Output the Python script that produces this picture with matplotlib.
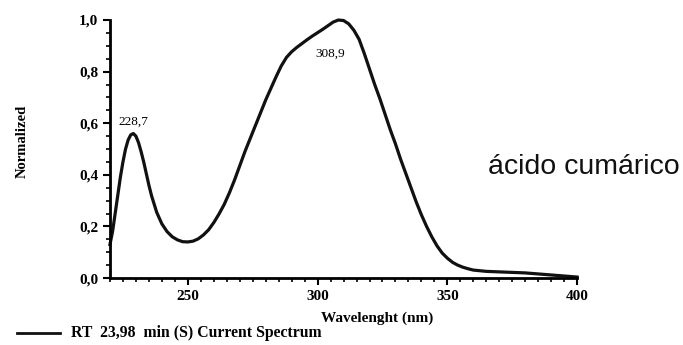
import matplotlib
matplotlib.use("Agg")
import matplotlib.pyplot as plt
from matplotlib.ticker import MultipleLocator, FuncFormatter

# spectrum (nm, normalized absorbance)
wavelength = [220, 221, 222, 223, 224, 225, 226, 227, 228, 229, 230, 231, 232, 233,
              234, 235, 236, 238, 240, 242, 244, 246, 248, 250, 252, 254, 256, 258,
              260, 262, 264, 266, 268, 270, 272, 274, 276, 278, 280, 282, 284, 286,
              288, 290, 292, 294, 296, 298, 300, 302, 304, 306, 308, 310, 312, 314,
              316, 318, 320, 322, 324, 326, 328, 330, 332, 334, 336, 338, 340, 342,
              344, 346, 348, 350, 352, 354, 356, 358, 360, 365, 370, 375, 380, 385,
              390, 395, 400]
normalized = [0.13, 0.18, 0.25, 0.32, 0.39, 0.45, 0.50, 0.535, 0.555, 0.56, 0.55,
              0.525, 0.49, 0.45, 0.405, 0.36, 0.32, 0.255, 0.21, 0.18, 0.16, 0.148,
              0.141, 0.14, 0.143, 0.152, 0.167, 0.187, 0.215, 0.248, 0.285, 0.33,
              0.38, 0.435, 0.49, 0.54, 0.59, 0.64, 0.69, 0.735, 0.78, 0.822, 0.855,
              0.877, 0.894, 0.909, 0.924, 0.938, 0.951, 0.964, 0.978, 0.992, 1.0,
              0.998, 0.985, 0.96, 0.925, 0.87, 0.81, 0.75, 0.695, 0.635, 0.575, 0.52,
              0.46, 0.405, 0.35, 0.295, 0.245, 0.2, 0.16, 0.125, 0.097, 0.077, 0.061,
              0.05, 0.042, 0.036, 0.031, 0.026, 0.024, 0.022, 0.02, 0.016, 0.012,
              0.008, 0.004]

peak_labels = ["228,7", "308,9"]
peak_pos = [(229.0, 0.605), (305.0, 0.87)]

serif = "Liberation Serif"
comma = FuncFormatter(lambda v, p: f"{v:.1f}".replace(".", ","))

fig = plt.figure(figsize=(6.83, 3.45), dpi=100)
ax = fig.add_axes([0.161, 0.194, 0.684, 0.748])

ax.plot(wavelength, normalized, color="#111111", lw=2.3, clip_on=False,
        solid_joinstyle="round")

ax.set_xlim(220, 400)
ax.set_ylim(0, 1.0)
ax.spines["top"].set_visible(False)
ax.spines["right"].set_visible(False)
ax.spines["left"].set_linewidth(2)
ax.spines["bottom"].set_linewidth(2)

ax.xaxis.set_major_locator(MultipleLocator(50))
ax.xaxis.set_minor_locator(MultipleLocator(5))
ax.yaxis.set_major_locator(MultipleLocator(0.2))
ax.yaxis.set_minor_locator(MultipleLocator(0.05))
ax.yaxis.set_major_formatter(comma)
ax.tick_params(which="major", direction="out", length=5, width=1.5)
ax.tick_params(which="minor", direction="out", length=3, width=1.2)

for lab in ax.get_xticklabels() + ax.get_yticklabels():
    lab.set_fontfamily(serif)
    lab.set_fontweight("bold")
    lab.set_fontsize(11)

ax.set_xlabel("Wavelenght (nm)", fontfamily=serif, fontweight="bold", fontsize=11)
ax.xaxis.set_label_coords(0.572, -0.128)
ax.set_ylabel("Normalized", fontfamily=serif, fontweight="bold", fontsize=10.5)
ax.yaxis.set_label_coords(-0.173, 0.53)

for txt, (x, y) in zip(peak_labels, peak_pos):
    ax.text(x, y, txt, fontfamily=serif, fontsize=9.5, ha="center", va="center")

# legend entry below the axes
fig.add_artist(plt.Line2D([0.025, 0.088], [0.035, 0.035], color="#111111", lw=2))
fig.text(0.104, 0.035, "RT  23,98  min (S) Current Spectrum", fontfamily=serif,
         fontweight="bold", fontsize=11.3, va="center")

fig.text(0.714, 0.516, "ácido cumárico", fontfamily="Liberation Sans",
         fontsize=20.5, va="center", color="#111111")

fig.savefig("out.png", dpi=100)
